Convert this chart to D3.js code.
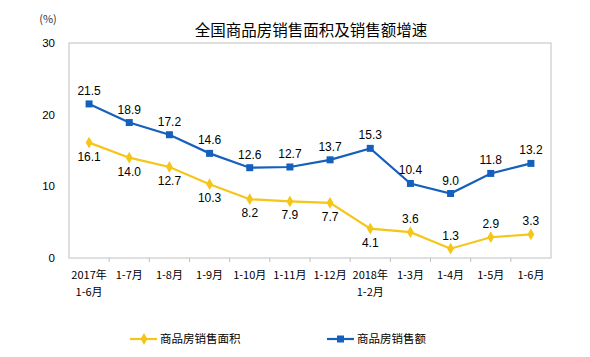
<!DOCTYPE html>
<html><head><meta charset="utf-8">
<script src="https://cdn.jsdelivr.net/npm/d3@7"></script>
<style>body{margin:0;background:#fff}svg{display:block}</style>
</head><body><svg id="c" width="590" height="357"></svg>
<script>
const categories = ["2017年\n1-6月","1-7月","1-8月","1-9月","1-10月","1-11月","1-12月","2018年\n1-2月","1-3月","1-4月","1-5月","1-6月"];
const areaGrowth = [16.1,14.0,12.7,10.3,8.2,7.9,7.7,4.1,3.6,1.3,2.9,3.3];
const salesGrowth = [21.5,18.9,17.2,14.6,12.6,12.7,13.7,15.3,10.4,9.0,11.8,13.2];
const areaLabelAbove = [false,false,false,false,false,false,false,false,true,true,true,true];
const yTicks = [0,10,20,30];
const seriesNames = ["商品房销售面积","商品房销售额"];

const svg = d3.select("#c");
const L=69,R=551,T=43,B=258;
const x = d3.scaleBand().domain(categories).range([L,R]);
const y = d3.scaleLinear().domain([0,30]).range([B,T]);
const cjk = "'Noto Sans CJK SC','Liberation Sans',sans-serif";
const num = "'Liberation Sans',Arial,sans-serif";
const yellow="#f5c518", blue="#1560bd";

svg.append("text").attr("x",311).attr("y",36).attr("text-anchor","middle")
  .attr("font-family",cjk).attr("font-size",15.5).attr("fill","#000").text("全国商品房销售面积及销售额增速");
svg.append("text").attr("x",48).attr("y",23).attr("text-anchor","middle")
  .attr("font-family",cjk).attr("font-size",11).attr("fill","#333").text("(%)");

// plot border
svg.append("rect").attr("x",L).attr("y",T).attr("width",R-L).attr("height",B-T)
  .attr("fill","none").attr("stroke","#c0c0c0").attr("stroke-width",1);

// y axis labels
svg.selectAll(".yt").data(yTicks).enter().append("text")
  .attr("x",55).attr("y",d=>y(d)+4).attr("text-anchor","end")
  .attr("font-family",num).attr("font-size",11.5).attr("fill","#000").text(d=>d);

// x ticks
const xt = categories.slice(1).map(c=>x(c));
svg.selectAll(".xt").data(xt).enter().append("line")
  .attr("x1",d=>d).attr("x2",d=>d).attr("y1",B).attr("y2",B+4).attr("stroke","#c0c0c0");

// x labels
categories.forEach(c=>{
  const lines=c.split("\n");
  const t=svg.append("text").attr("text-anchor","middle").attr("font-family",cjk)
    .attr("font-size",11).attr("fill","#000");
  lines.forEach((ln,i)=>t.append("tspan").attr("x",x(c)+x.bandwidth()/2).attr("y",279+i*17).text(ln));
});

const cx = c=>x(c)+x.bandwidth()/2;
const line = d3.line().x((d,i)=>cx(categories[i])).y(d=>y(d));

svg.append("path").datum(areaGrowth).attr("d",line).attr("fill","none").attr("stroke",yellow).attr("stroke-width",2.2);
svg.append("path").datum(salesGrowth).attr("d",line).attr("fill","none").attr("stroke",blue).attr("stroke-width",2.2);

const diamond = d3.symbol().type(d3.symbolDiamond).size(40);
svg.selectAll(".ym").data(areaGrowth).enter().append("path").attr("d",diamond)
  .attr("transform",(d,i)=>`translate(${cx(categories[i])},${y(d)})`).attr("fill",yellow);
svg.selectAll(".bm").data(salesGrowth).enter().append("rect")
  .attr("x",(d,i)=>cx(categories[i])-3.5).attr("y",d=>y(d)-3.5).attr("width",7).attr("height",7).attr("fill",blue);

svg.selectAll(".yl").data(areaGrowth).enter().append("text")
  .attr("x",(d,i)=>cx(categories[i])).attr("y",(d,i)=>areaLabelAbove[i]? y(d)-9 : y(d)+18)
  .attr("text-anchor","middle").attr("font-family",num).attr("font-size",12).attr("fill","#000")
  .text(d=>d.toFixed(1));
svg.selectAll(".bl").data(salesGrowth).enter().append("text")
  .attr("x",(d,i)=>cx(categories[i])).attr("y",d=>y(d)-9)
  .attr("text-anchor","middle").attr("font-family",num).attr("font-size",12).attr("fill","#000")
  .text(d=>d.toFixed(1));

// legend
const lg=[{x:130,c:yellow,n:seriesNames[0],m:"d"},{x:327,c:blue,n:seriesNames[1],m:"s"}];
lg.forEach(l=>{
  svg.append("line").attr("x1",l.x).attr("x2",l.x+27).attr("y1",339).attr("y2",339).attr("stroke",l.c).attr("stroke-width",2.2);
  if(l.m==="d") svg.append("path").attr("d",diamond).attr("transform",`translate(${l.x+14},339)`).attr("fill",l.c);
  else svg.append("rect").attr("x",l.x+10).attr("y",335.5).attr("width",7).attr("height",7).attr("fill",l.c);
  svg.append("text").attr("x",l.x+30).attr("y",343).attr("font-family",cjk).attr("font-size",11.5).attr("fill","#000").text(l.n);
});
</script></body></html>
